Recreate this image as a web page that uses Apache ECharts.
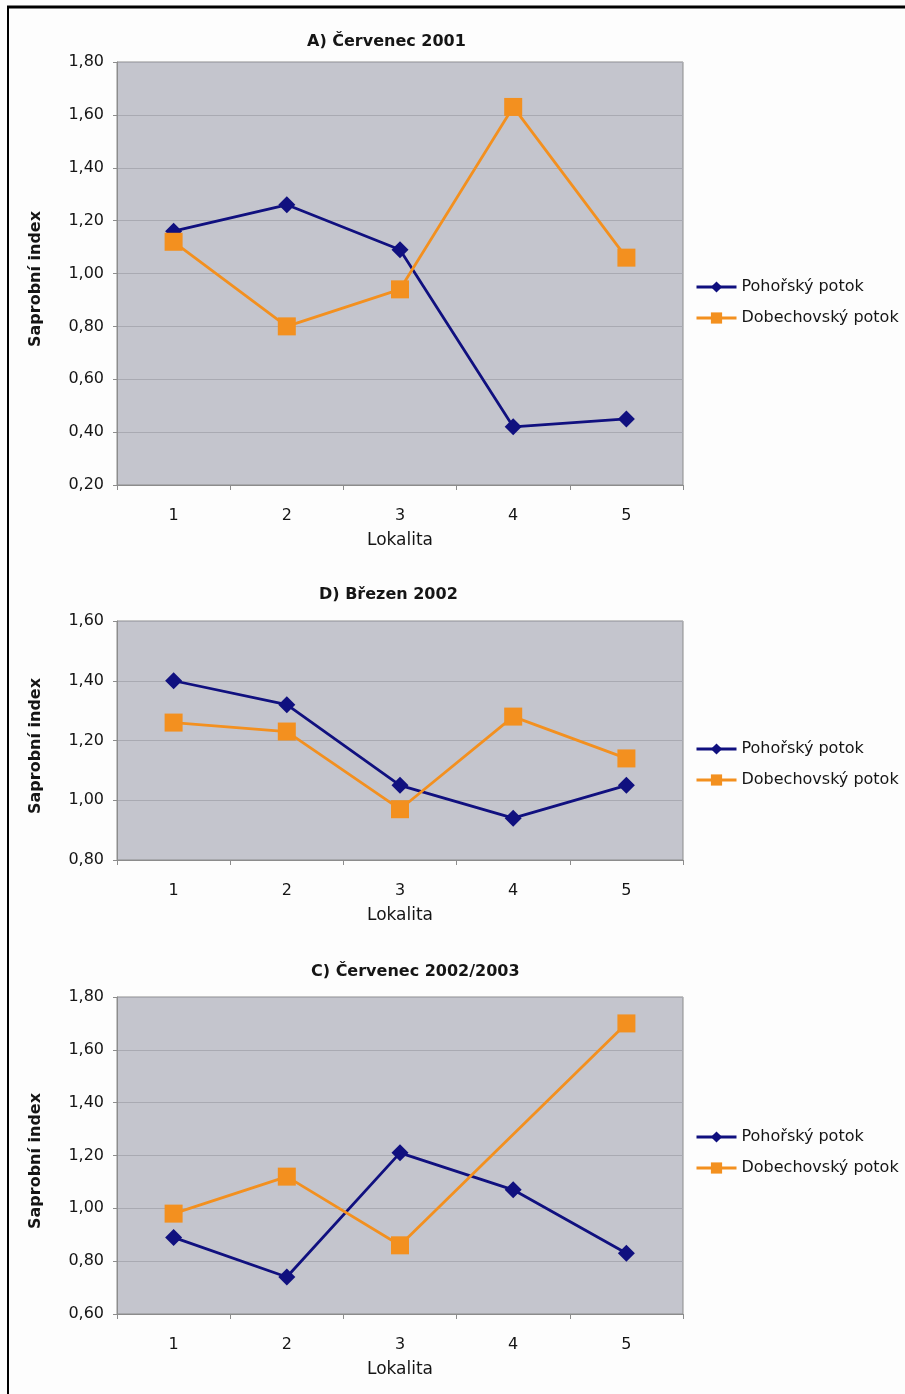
<!DOCTYPE html>
<html>
<head>
<meta charset="utf-8">
<script src="https://cdn.jsdelivr.net/npm/echarts@6/dist/echarts.min.js"></script>
<style>
html,body{margin:0;padding:0;background:#fdfdfd;}
#c{width:905px;height:1394px;}
</style>
</head>
<body>
<div id="c"></div>
<script>
var categories = ['1', '2', '3', '4', '5'];
var seriesNames = ['Pohořský potok', 'Dobechovský potok'];
var titles = ['A) Červenec 2001', 'D) Březen 2002', 'C) Červenec 2002/2003'];

var pohorskyA = [1.16, 1.26, 1.09, 0.42, 0.45];
var dobechovskyA = [1.12, 0.80, 0.94, 1.63, 1.06];
var pohorskyD = [1.40, 1.32, 1.05, 0.94, 1.05];
var dobechovskyD = [1.26, 1.23, 0.97, 1.28, 1.14];
var pohorskyC = [0.89, 0.74, 1.21, 1.07, 0.83];
var dobechovskyC = [0.98, 1.12, 0.86, null, 1.70];

var yMin = [0.2, 0.8, 0.6];
var yMax = [1.8, 1.6, 1.8];
var yInterval = [0.2, 0.2, 0.2];

var panels = [
  {p: pohorskyA, d: dobechovskyA, top: 62, h: 423, titleTop: 34, titleLeft: 307, legendTop: 274},
  {p: pohorskyD, d: dobechovskyD, top: 621, h: 239, titleTop: 587, titleLeft: 319, legendTop: 736},
  {p: pohorskyC, d: dobechovskyC, top: 997, h: 317, titleTop: 964, titleLeft: 311, legendTop: 1124}
];

var FONT = 'DejaVu Sans, Liberation Sans, Arial, sans-serif';
var TXT = '#151515';
var NAVY = '#10107f';
var ORANGE = '#f3901f';

var option = {
  backgroundColor: '#fdfdfd',
  animation: false,
  title: [], grid: [], xAxis: [], yAxis: [], series: [], legend: [],
  graphic: [
    {type: 'line', shape: {x1: 7, y1: 7, x2: 905, y2: 7}, style: {stroke: '#000', lineWidth: 3}},
    {type: 'line', shape: {x1: 8, y1: 6, x2: 8, y2: 1394}, style: {stroke: '#000', lineWidth: 2}}
  ]
};

panels.forEach(function (pn, i) {
  option.title.push({
    text: titles[i], left: pn.titleLeft, top: pn.titleTop, padding: 0,
    textStyle: {fontFamily: FONT, fontSize: 16, fontWeight: 'bold', color: TXT}
  });
  option.grid.push({left: 117, right: 222, top: pn.top, height: pn.h, show: true,
    backgroundColor: '#c4c5cd', borderColor: '#8c8c8c', borderWidth: 1});
  option.xAxis.push({
    type: 'category', gridIndex: i, data: categories, boundaryGap: true,
    name: 'Lokalita', nameLocation: 'middle', nameGap: 47,
    nameTextStyle: {fontFamily: FONT, fontSize: 17, color: TXT},
    axisLine: {lineStyle: {color: '#8c8c8c', width: 1}},
    axisTick: {show: true, length: 5, lineStyle: {color: '#8c8c8c'}},
    axisLabel: {fontFamily: FONT, fontSize: 16, color: TXT, margin: 23}
  });
  option.yAxis.push({
    type: 'value', gridIndex: i, min: yMin[i], max: yMax[i], interval: yInterval[i],
    name: 'Saprobní index', nameLocation: 'middle', nameGap: 73,
    nameTextStyle: {fontFamily: FONT, fontSize: 16, fontWeight: 'bold', color: TXT, padding: [0, 11, 0, 0]},
    axisLine: {show: true, lineStyle: {color: '#8c8c8c'}},
    axisTick: {show: true, length: 4, lineStyle: {color: '#8c8c8c'}},
    splitLine: {show: true, lineStyle: {color: '#a9aab2', width: 1}},
    axisLabel: {fontFamily: FONT, fontSize: 16, color: TXT, margin: 13,
      formatter: function (v) { return v.toFixed(2).replace('.', ','); }}
  });
  option.series.push({
    name: seriesNames[0], type: 'line', xAxisIndex: i, yAxisIndex: i, data: pn.p,
    symbol: 'diamond', symbolSize: 17, color: NAVY,
    lineStyle: {color: NAVY, width: 2.8}, itemStyle: {color: NAVY}
  });
  option.series.push({
    name: seriesNames[1], type: 'line', xAxisIndex: i, yAxisIndex: i, data: pn.d,
    symbol: 'rect', symbolSize: 18, color: ORANGE, connectNulls: true,
    lineStyle: {color: ORANGE, width: 2.8}, itemStyle: {color: ORANGE}
  });
  option.legend.push({
    orient: 'vertical', left: 690, top: pn.legendTop, itemWidth: 40, itemHeight: 14,
    itemGap: 15, data: seriesNames, selectedMode: false,
    lineStyle: {width: 3},
    textStyle: {fontFamily: FONT, fontSize: 16, color: TXT}
  });
});

var chart = echarts.init(document.getElementById('c'));
chart.setOption(option);
</script>
</body>
</html>
